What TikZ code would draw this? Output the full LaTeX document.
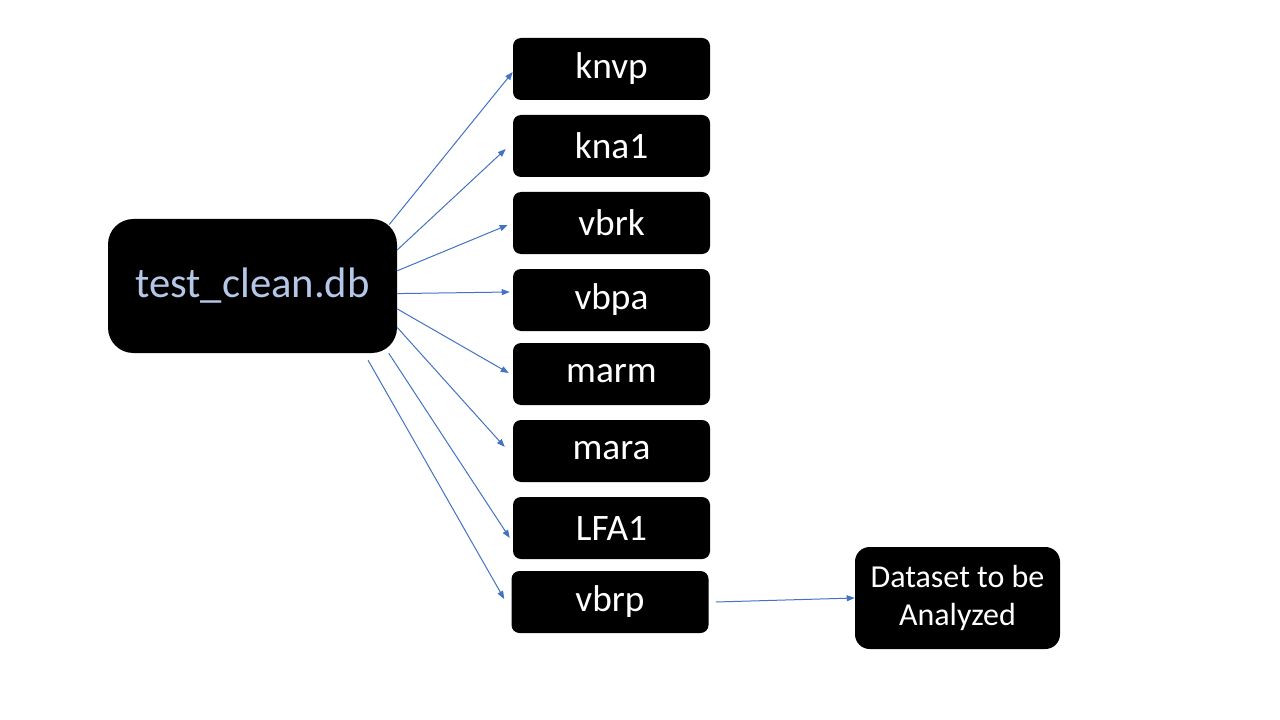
\documentclass[tikz,border=0pt]{standalone}
\usepackage{fontspec}
\setmainfont{Carlito}
\usetikzlibrary{arrows.meta}
\definecolor{linkblue}{HTML}{4472C4}
\definecolor{dbtext}{HTML}{B4C7E7}
\tikzset{
	table/.style={fill=black, text=white, rounded corners=6pt, minimum width=147.75pt, minimum height=46.5pt, font=\fontsize{28}{32}\selectfont},
	link/.style={draw=linkblue, line width=0.75pt, -{Triangle[length=6pt, width=4.5pt]}}
}

\begin{document}
\begin{tikzpicture}[x=0.75pt, y=-0.75pt]
	\fill[white] (0,0) rectangle (1280,720);
	\useasboundingbox (0,0) rectangle (1280,720);

	\node[fill=black, text=dbtext, rounded corners=19pt, minimum width=216.75pt, minimum height=100.5pt, font=\fontsize{32}{38}\selectfont] (db) at (252.5,286) {test\_clean.db};

	\node[table] (knvp) at (611.5,69) {knvp};
	\node[table] (kna1) at (611.5,146) {kna1};
	\node[table] (vbrk) at (611.5,223) {vbrk};
	\node[table] (vbpa) at (611.5,300) {vbpa};
	\node[table] (marm) at (611.5,374) {marm};
	\node[table] (mara) at (611.5,451) {mara};
	\node[table] (lfa1) at (611.5,528) {LFA1};
	\node[table] (vbrp) at (610,602) {vbrp};

	\node[table, rounded corners=11pt, minimum width=153.75pt, minimum height=76.5pt, align=center, font=\fontsize{24}{28}\selectfont] (result) at (957.5,598) {Dataset to be\\Analyzed};

%	\draw[link] (db) -- (knvp);
	\draw[link] ([xshift=-6pt]db.23) -- ([yshift=-2.25pt]knvp.west);
	\draw[link] (db.14) -- ([xshift=-5.25pt,yshift=-2.25pt]kna1.west);
	\draw[link] (db.6) -- ([xshift=-3.75pt,yshift=-1.5pt]vbrk.west);
	\draw[link] (db.-3) -- ([xshift=-2.25pt,yshift=6pt]vbpa.west);
	\draw[link] (db.-9) -- ([xshift=-3pt,yshift=0.75pt]marm.west);
	\draw[link] (db.-16) -- ([xshift=-6pt,yshift=3pt]mara.west);
	\draw[link] ([xshift=-6pt]db.-25) -- ([xshift=-2.25pt,yshift=-7.5pt]lfa1.west);
	\draw[link] ([xshift=9pt,yshift=-5.25pt]db.-33) -- ([xshift=-5.25pt,yshift=2.25pt]vbrp.west);
	\draw[link] ([xshift=5.25pt]vbrp.east) -- (result.west);
\end{tikzpicture}
\end{document}
